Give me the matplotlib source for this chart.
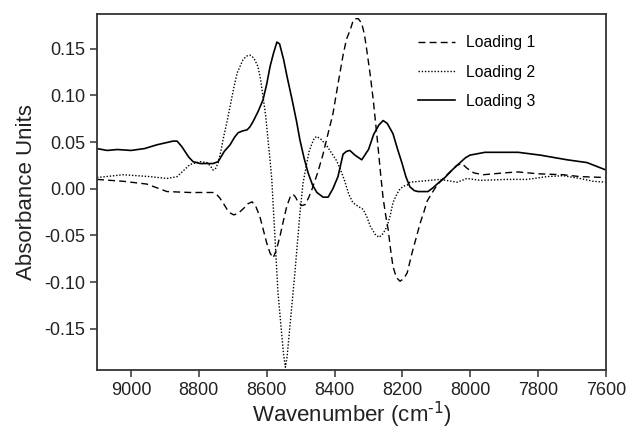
import matplotlib
matplotlib.use("Agg")
import matplotlib.pyplot as plt
import numpy as np

plt.rcParams['font.family'] = ['Liberation Sans', 'DejaVu Sans']
plt.rcParams['axes.unicode_minus'] = False

# Loading 1 (dashed)
wn1 = [9100, 9023, 8953, 8894, 8826, 8758, 8748, 8738, 8727, 8717, 8707, 8697,
       8683, 8668, 8655, 8643, 8632, 8620, 8610, 8600, 8590, 8581, 8572, 8561,
       8550, 8541, 8530, 8522, 8515, 8508, 8497, 8487, 8477, 8467, 8450, 8434,
       8420, 8405, 8390, 8375, 8365, 8354, 8347, 8340, 8330, 8320, 8312, 8305,
       8295, 8286, 8279, 8272, 8265, 8257, 8250, 8242, 8235, 8228, 8218, 8207,
       8196, 8186, 8172, 8160, 8148, 8137, 8127, 8112, 8098, 8080, 8060, 8040,
       8025, 8010, 7990, 7962, 7900, 7860, 7800, 7727, 7677, 7600]
ld1 = [0.010, 0.008, 0.005, -0.003, -0.004, -0.004, -0.006, -0.010, -0.016, -0.022, -0.026, -0.028,
       -0.026, -0.021, -0.016, -0.014, -0.019, -0.030, -0.044, -0.058, -0.069, -0.074, -0.066, -0.051,
       -0.033, -0.019, -0.008, -0.006, -0.009, -0.014, -0.018, -0.017, -0.010, -0.001, 0.017, 0.037,
       0.058, 0.080, 0.112, 0.143, 0.160, 0.170, 0.178, 0.182, 0.182, 0.177, 0.165, 0.148,
       0.122, 0.095, 0.070, 0.045, 0.018, -0.010, -0.027, -0.044, -0.065, -0.083, -0.095, -0.099,
       -0.096, -0.090, -0.069, -0.053, -0.037, -0.025, -0.013, -0.004, 0.004, 0.011, 0.018, 0.025,
       0.027, 0.022, 0.017, 0.015, 0.017, 0.018, 0.016, 0.015, 0.013, 0.012]

# Loading 2 (dotted)
wn2 = [9100, 9023, 8944, 8894, 8864, 8826, 8796, 8776, 8765, 8758, 8750, 8743,
       8735, 8729, 8718, 8708, 8697, 8687, 8670, 8660, 8649, 8638, 8626, 8618,
       8611, 8603, 8596, 8590, 8585, 8576, 8567, 8556, 8550, 8545, 8540, 8531,
       8517, 8502, 8493, 8482, 8475, 8467, 8460, 8453, 8440, 8423, 8394, 8380,
       8370, 8358, 8346, 8330, 8316, 8305, 8295, 8280, 8269, 8257, 8245, 8235,
       8228, 8217, 8207, 8195, 8186, 8178, 8119, 8089, 8039, 8010, 7971, 7892,
       7833, 7774, 7727, 7677, 7638, 7600]
ld2 = [0.012, 0.015, 0.013, 0.011, 0.013, 0.026, 0.029, 0.028, 0.024, 0.020, 0.022, 0.028,
       0.040, 0.052, 0.070, 0.088, 0.108, 0.124, 0.138, 0.142, 0.143, 0.140, 0.131, 0.117,
       0.099, 0.078, 0.052, 0.030, 0.010, -0.050, -0.110, -0.155, -0.178, -0.191, -0.180, -0.145,
       -0.090, -0.026, 0.006, 0.027, 0.040, 0.048, 0.054, 0.056, 0.053, 0.046, 0.030, 0.018,
       0.008, -0.006, -0.015, -0.019, -0.022, -0.030, -0.040, -0.049, -0.052, -0.048, -0.040, -0.027,
       -0.015, -0.006, 0.000, 0.003, 0.004, 0.007, 0.009, 0.010, 0.007, 0.011, 0.009, 0.010,
       0.010, 0.013, 0.014, 0.011, 0.008, 0.007]

# Loading 3 (solid)
wn3 = [9100, 9070, 9040, 9000, 8960, 8924, 8900, 8876, 8864, 8850, 8830, 8817,
       8796, 8758, 8743, 8725, 8708, 8695, 8684, 8670, 8658, 8650, 8640, 8625,
       8611, 8600, 8590, 8580, 8570, 8562, 8550, 8540, 8525, 8512, 8502, 8490,
       8478, 8465, 8452, 8434, 8419, 8405, 8390, 8375, 8365, 8355, 8340, 8320,
       8300, 8285, 8270, 8257, 8245, 8228, 8215, 8201, 8190, 8178, 8165, 8154,
       8125, 8110, 8098, 8075, 8051, 8030, 8015, 8001, 7986, 7957, 7859, 7794,
       7715, 7656, 7600]
ld3 = [0.043, 0.041, 0.042, 0.041, 0.043, 0.047, 0.049, 0.051, 0.051, 0.045, 0.034, 0.029,
       0.027, 0.027, 0.029, 0.040, 0.047, 0.055, 0.060, 0.062, 0.063, 0.066, 0.072, 0.083,
       0.095, 0.112, 0.131, 0.145, 0.157, 0.155, 0.138, 0.120, 0.095, 0.072, 0.052, 0.033,
       0.017, 0.004, -0.004, -0.009, -0.009, 0.000, 0.013, 0.037, 0.040, 0.041, 0.036, 0.031,
       0.042, 0.058, 0.068, 0.073, 0.070, 0.059, 0.043, 0.027, 0.013, 0.002, -0.002, -0.003,
       -0.003, 0.001, 0.005, 0.012, 0.021, 0.028, 0.033, 0.036, 0.037, 0.039, 0.039, 0.036,
       0.031, 0.028, 0.020]

xticks = [9000, 8800, 8600, 8400, 8200, 8000, 7800, 7600]
yticks = [-0.15, -0.10, -0.05, 0.00, 0.05, 0.10, 0.15]

fig = plt.figure(figsize=(6.32, 4.32), dpi=100)
ax = fig.add_axes([0.1535, 0.1435, 0.8055, 0.824])

ax.plot(wn1, ld1, color='black', lw=1.0, linestyle=(0, (5, 3)), label='Loading 1')
ax.plot(wn2, ld2, color='black', lw=1.0, linestyle=(0, (1, 1.3)), label='Loading 2')
ax.plot(wn3, ld3, color='black', lw=1.2, linestyle='-', label='Loading 3')

ax.set_xlim(9100, 7600)
ax.set_ylim(-0.194, 0.187)
ax.set_xticks(xticks)
ax.set_yticks(yticks)
ax.set_yticklabels([f"{v:.2f}" for v in yticks])

for s in ax.spines.values():
    s.set_color('#333333')
    s.set_linewidth(1.3)
ax.tick_params(direction='out', length=5, width=1.1, color='#333333',
               labelsize=13, labelcolor='#222222')

ax.set_xlabel('Wavenumber (cm$^{\\text{-1}}$)', fontsize=16, color='#222222', labelpad=1)
ax.set_ylabel('Absorbance Units', fontsize=16, color='#222222', labelpad=5)

ax.legend(loc='upper left', bbox_to_anchor=(0.63, 0.94), frameon=False,
          fontsize=11.3, handlelength=2.4, handletextpad=0.7, labelspacing=0.9,
          borderpad=0, borderaxespad=0)

fig.savefig('out.png', dpi=100)
